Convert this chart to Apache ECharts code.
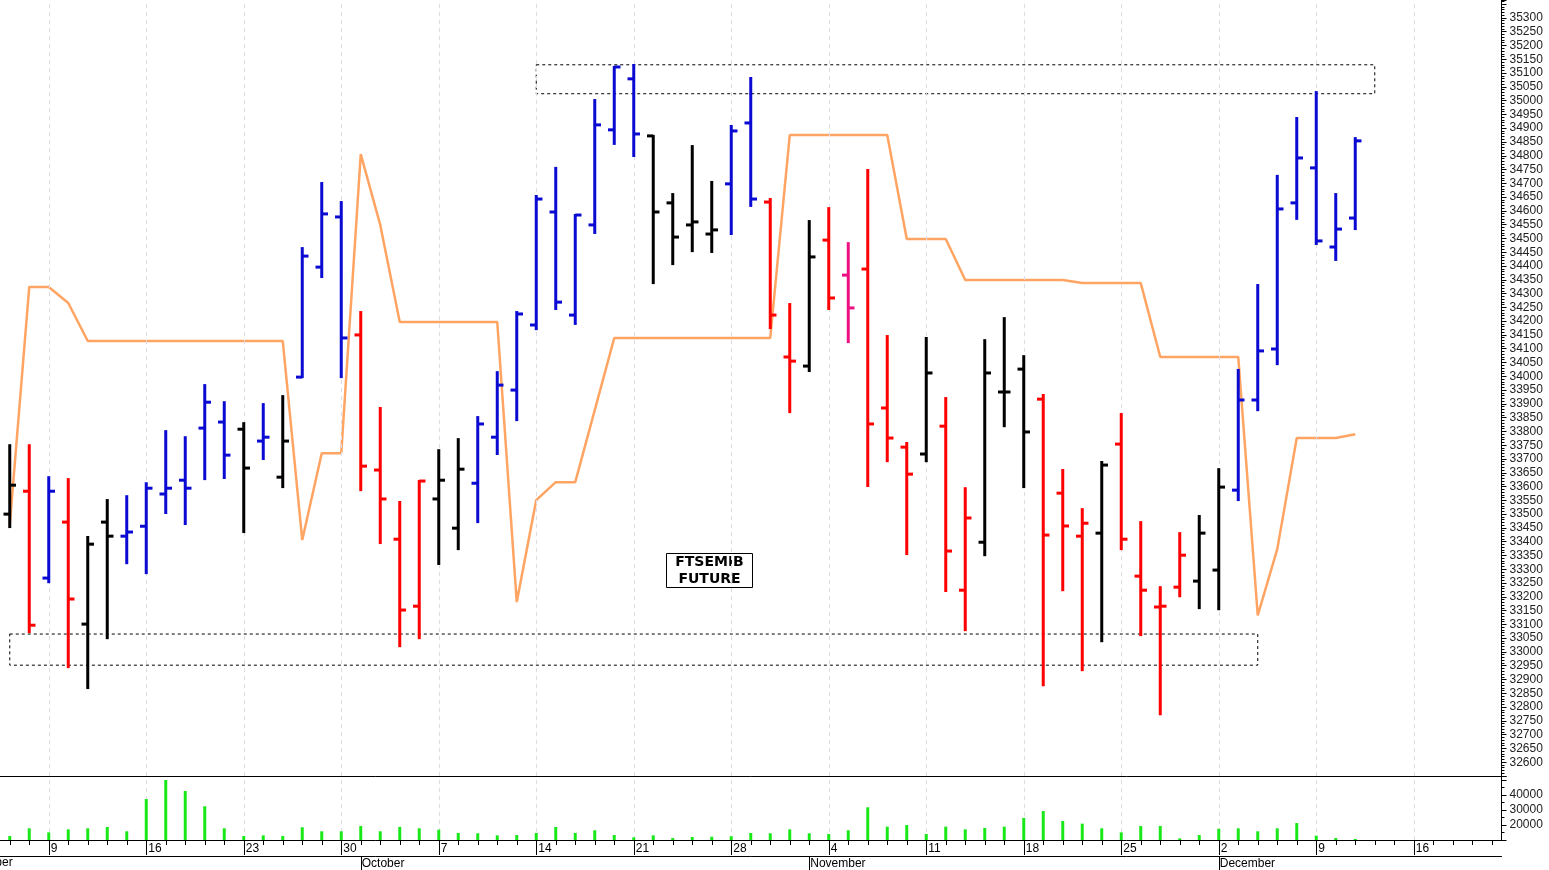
<!DOCTYPE html>
<html><head><meta charset="utf-8">
<script src="https://cdn.jsdelivr.net/npm/echarts@6/dist/echarts.min.js"></script>
<style>html,body{margin:0;padding:0;background:#fff}#c{width:1549px;height:870px}</style>
</head><body><div id="c"></div>
<script>
const dates = ['2019-09-05','2019-09-06','2019-09-09','2019-09-10','2019-09-11','2019-09-12','2019-09-13','2019-09-16','2019-09-17','2019-09-18','2019-09-19','2019-09-20','2019-09-23','2019-09-24','2019-09-25','2019-09-26','2019-09-27','2019-09-30',
'2019-10-01','2019-10-02','2019-10-03','2019-10-04','2019-10-07','2019-10-08','2019-10-09','2019-10-10','2019-10-11','2019-10-14','2019-10-15','2019-10-16','2019-10-17','2019-10-18','2019-10-21','2019-10-22','2019-10-23','2019-10-24','2019-10-25','2019-10-28','2019-10-29','2019-10-30','2019-10-31',
'2019-11-01','2019-11-04','2019-11-05','2019-11-06','2019-11-07','2019-11-08','2019-11-11','2019-11-12','2019-11-13','2019-11-14','2019-11-15','2019-11-18','2019-11-19','2019-11-20','2019-11-21','2019-11-22','2019-11-25','2019-11-26','2019-11-27','2019-11-28','2019-11-29',
'2019-12-02','2019-12-03','2019-12-04','2019-12-05','2019-12-06','2019-12-09','2019-12-10','2019-12-11','2019-12-12','2019-12-13','2019-12-16','2019-12-17','2019-12-18','2019-12-19','2019-12-20'];
const openP  = [33500,33583,33268,33471,33101,33471,33420,33456,33573,33623,33812,33834,33808,33765,33634,33997,34396,34578,34150,33660,33409,33166,33555,33449,33612,33779,33950,34186,34596,34222,34549,34894,35079,34872,34629,34549,34516,34698,34919,34632,34070,34037,34494,34367,34389,33885,33743,33718,33819,33224,33398,33943,34026,33917,33576,33420,33431,33754,33275,33163,33235,33257,33297,33587,33914,34099,34629,34756,34469,34574];
const highP  = [33750,33750,33634,33627,33417,33551,33565,33612,33801,33779,33968,33906,33830,33899,33928,34465,34701,34632,34233,33885,33544,33620,33732,33772,33852,34015,34233,34654,34756,34585,35002,35122,35129,34872,34661,34835,34705,34908,35082,34643,34262,34563,34610,34483,34748,34146,33758,34139,33921,33594,34131,34211,34073,33932,33660,33518,33689,33863,33471,33235,33431,33493,33663,34023,34331,34727,34937,35031,34661,34864];
const lowP   = [33453,33072,33253,32945,32869,33050,33322,33286,33504,33464,33627,33631,33435,33700,33598,33997,34360,33997,33587,33395,33021,33050,33319,33373,33471,33718,33841,34171,34244,34190,34520,34843,34799,34338,34407,34454,34451,34516,34618,34175,33870,34019,34244,34124,33602,33692,33355,33692,33221,33079,33351,33819,33598,32879,33224,32934,33039,33373,33061,32774,33202,33159,33155,33551,33877,34044,34571,34480,34422,34534];
const closeP = [33605,33097,33583,33192,33391,33420,33435,33594,33594,33594,33906,33714,33667,33779,33765,34436,34589,34139,33674,33555,33152,33620,33623,33663,33827,33968,34226,34643,34269,34585,34912,35122,34879,34596,34505,34560,34531,34890,34643,34222,34055,34433,34284,34248,33827,33776,33645,34012,33366,33486,34012,33943,33798,33424,33457,33467,33678,33409,33224,33166,33351,33431,33598,33914,34092,34607,34792,34491,34534,34854];
const trend = ['K','R','B','R','K','K','B','B','B','B','B','B','K','B','K','B','B','B','R','R','R','R','K','K','B','B','B','B','B','B','B','B','B','K','K','K','K','B','B','R','R','K','R','M','R','R','R','K','R','R','K','K','K','R','R','R','K','R','R','R','R','K','K','B','B','B','B','B','B','B'];
const stopLine = [33460,34324,34324,34266,34128,34128,34128,34128,34128,34128,34128,34128,34128,34128,34128,33406,33721,33721,34806,34549,34197,34197,34197,34197,34197,34197,33181,33551,33616,33616,33877,34139,34139,34139,34139,34139,34139,34139,34139,34139,34875,34875,34875,34875,34875,34875,34498,34498,34498,34349,34349,34349,34349,34349,34349,34338,34338,34338,34338,34070,34070,34070,34070,34070,33133,33373,33776,33776,33776,33790];
const volume = [12700,17800,15100,17100,17800,18700,15800,37300,50000,42700,32500,17800,12700,13100,12700,18500,15800,15800,19300,15800,18700,17800,16900,14700,14500,13100,13300,14700,18700,14700,16500,13300,11800,13100,11300,12000,12200,12500,14700,14500,17100,14500,14000,16500,31800,18900,20000,14000,18900,17100,18000,18900,24700,29300,22700,20900,17800,15100,19300,19300,11100,13300,17500,17800,15800,17800,21300,12900,11300,10700];
const upperBox = {from: 27, to: 70, low: 35025, high: 35130};
const lowerBox = {from: 0, to: 64, low: 32952, high: 33065};
const titleText = 'FTSEMIB\nFUTURE';
const monthNames = ['January','February','March','April','May','June','July','August','September','October','November','December'];

const trendColor = {B:'#0a0ad2', R:'#ff0000', K:'#000000', M:'#ee1080'};
const isMonday = d => new Date(d + 'T12:00:00Z').getUTCDay() === 1;
const mondays = dates.map((d,i)=>isMonday(d)?i:-1).filter(i=>i>=0);
const monthStart = dates.map((d,i)=> i>0 && d.slice(5,7)!==dates[i-1].slice(5,7));
const ohlc = openP.map((o,i)=>[i,o,highP[i],lowP[i],closeP[i]]);
const vlines = mondays.map(i=>({xAxis:i}));
const markLineStyle = {silent:true, symbol:'none', label:{show:false}, lineStyle:{color:'#dcdce6', type:[4,4], width:1}, data:vlines, animation:false};

const chart = echarts.init(document.getElementById('c'));
const gridL = -0.5, gridW = 1502;
chart.setOption({
  animation:false,
  grid:[{left:gridL, width:gridW, top:0, height:776},{left:gridL, width:gridW, top:776, height:64}],
  xAxis:[
    {gridIndex:0, type:'category', data:dates, boundaryGap:true, axisLine:{show:true,lineStyle:{color:'#000',width:1}}, axisTick:{show:false}, axisLabel:{show:false}, splitLine:{show:false}},
    {gridIndex:1, type:'category', data:dates, boundaryGap:true, position:'bottom',
      axisLine:{show:true,lineStyle:{color:'#000',width:1}},
      axisTick:{show:true, alignWithLabel:true, interval:(i)=>isMonday(dates[i]), length:15, lineStyle:{color:'#000'}},
      axisLabel:{show:true, interval:(i)=>isMonday(dates[i]), formatter:v=>String(parseInt(v.slice(8),10)), align:'left', padding:[0,0,0,2], margin:3, fontSize:12, color:'#000', fontFamily:'Liberation Sans'}},
    {gridIndex:1, type:'category', data:dates, boundaryGap:true, position:'bottom',
      axisLine:{show:false}, axisTick:{show:true, alignWithLabel:true, interval:0, length:5, lineStyle:{color:'#000'}}, axisLabel:{show:false}},
    {gridIndex:1, type:'category', data:dates, boundaryGap:true, position:'bottom', offset:16,
      axisLine:{show:true,lineStyle:{color:'#000',width:1}},
      axisTick:{show:true, alignWithLabel:true, interval:(i)=>monthStart[i], length:14, lineStyle:{color:'#000'}},
      axisLabel:{show:true, interval:(i)=>monthStart[i], formatter:v=>monthNames[parseInt(v.slice(5,7),10)-1], align:'left', padding:[0,0,0,1], margin:2, fontSize:12, color:'#000', fontFamily:'Liberation Sans'}}
  ],
  yAxis:[
    {gridIndex:0, type:'value', position:'right', min:32550, max:35365, interval:50,
      axisLine:{show:true,lineStyle:{color:'#000'}}, axisTick:{show:true,length:5,lineStyle:{color:'#000'}},
      minorTick:{show:true, splitNumber:5, length:3, lineStyle:{color:'#000'}},
      axisLabel:{showMinLabel:false, showMaxLabel:false, fontSize:12, color:'#222', margin:8, fontFamily:'Liberation Sans', formatter:v=>(v>=32600&&v<=35300)?String(v):''},
      splitLine:{show:false}},
    {gridIndex:1, type:'value', position:'right', min:10000, max:52667, interval:10000,
      axisLine:{show:true,lineStyle:{color:'#000'}}, axisTick:{show:true,length:5,lineStyle:{color:'#000'}},
      minorTick:{show:true, splitNumber:2, length:3, lineStyle:{color:'#000'}},
      axisLabel:{fontSize:12, color:'#222', margin:8, fontFamily:'Liberation Sans', formatter:v=>(v>=20000&&v<=40000)?String(v):''},
      splitLine:{show:false}}
  ],
  series:[
    {type:'line', xAxisIndex:0, yAxisIndex:0, data:[], z:0, markLine:markLineStyle},
    {type:'line', xAxisIndex:1, yAxisIndex:1, data:[], z:0, markLine:markLineStyle},
    {type:'line', xAxisIndex:0, yAxisIndex:0, data:stopLine, symbol:'none', lineStyle:{color:'#ffa462', width:2.5}, z:2,
      markArea:{silent:true, itemStyle:{color:'rgba(0,0,0,0)', borderColor:'#000', borderWidth:1, borderType:[3,3]},
        data:[[{xAxis:upperBox.from, yAxis:upperBox.high},{xAxis:upperBox.to, yAxis:upperBox.low}],
              [{xAxis:lowerBox.from, yAxis:lowerBox.high},{xAxis:lowerBox.to, yAxis:lowerBox.low}]]}},
    {type:'custom', xAxisIndex:0, yAxisIndex:0, data:ohlc, encode:{x:0, y:[1,2,3,4]}, z:5,
      renderItem:(params, api)=>{
        const i = api.value(0);
        const o = api.coord([i, api.value(1)]), h = api.coord([i, api.value(2)]),
              l = api.coord([i, api.value(3)]), c = api.coord([i, api.value(4)]);
        const w = api.size([1,0])[0]*0.32;
        const col = trendColor[trend[i]];
        const st = {stroke:col, lineWidth:3};
        return {type:'group', children:[
          {type:'line', shape:{x1:h[0], y1:h[1]-1, x2:l[0], y2:l[1]+1}, style:st},
          {type:'line', shape:{x1:o[0]-w, y1:o[1], x2:o[0], y2:o[1]}, style:st},
          {type:'line', shape:{x1:c[0], y1:c[1], x2:c[0]+w, y2:c[1]}, style:st}
        ]};
      }},
    {type:'bar', xAxisIndex:1, yAxisIndex:1, data:volume, barWidth:3, itemStyle:{color:'#18e818'}, z:5}
  ],
  graphic:[
    {type:'text', left:-46, top:857, style:{text:'September', fontSize:12, fill:'#000', fontFamily:'Liberation Sans'}},
    {type:'group', left:666, top:553, children:[
      {type:'rect', shape:{x:0,y:0,width:86,height:34}, style:{fill:'#fff', stroke:'#000', lineWidth:1}},
      {type:'text', x:43, y:17, style:{text:titleText, align:'center', verticalAlign:'middle', fontSize:14, fontWeight:'bold', fontFamily:'DejaVu Sans', fill:'#000', lineHeight:17}}
    ]}
  ]
});
</script></body></html>
